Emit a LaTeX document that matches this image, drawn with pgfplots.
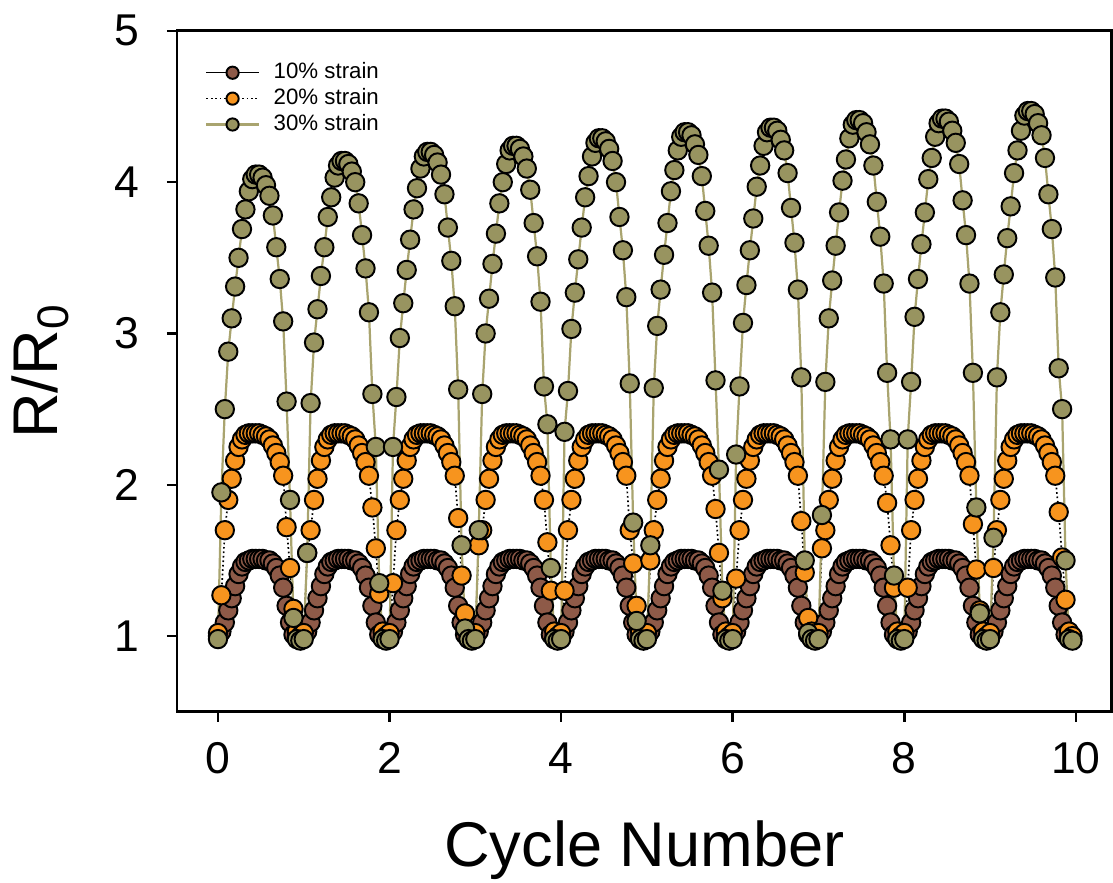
\documentclass[border=0pt]{standalone}
\usepackage{pgfplots}
\pgfplotsset{compat=1.18}
\usepackage{pgfplotstable}
\usepackage{fontspec}
\setmainfont{Liberation Sans}
\definecolor{cbrown}{HTML}{8E5A48}
\definecolor{corange}{HTML}{F7941E}
\definecolor{colive}{HTML}{989460}
\definecolor{colivel}{HTML}{A9A46F}
\pgfplotstableread{
x a b c
0.00 1.00 1.02 0.98
0.04 1.03 1.27 1.95
0.08 1.09 1.70 2.50
0.12 1.17 1.90 2.88
0.16 1.25 2.04 3.10
0.20 1.33 2.16 3.31
0.24 1.41 2.25 3.50
0.28 1.46 2.30 3.69
0.32 1.49 2.33 3.82
0.36 1.50 2.34 3.94
0.40 1.51 2.34 4.02
0.44 1.51 2.34 4.05
0.48 1.51 2.34 4.05
0.52 1.51 2.33 4.03
0.56 1.50 2.32 3.98
0.60 1.50 2.30 3.91
0.64 1.48 2.26 3.78
0.68 1.45 2.21 3.57
0.72 1.40 2.15 3.36
0.76 1.32 2.06 3.08
0.80 1.20 1.72 2.55
0.84 1.09 1.45 1.90
0.88 1.01 1.18 1.12
0.92 0.99 1.03 0.98
0.96 0.98 1.00 0.97
1.00 1.00 1.02 0.98
1.04 1.03 1.55 1.55
1.08 1.09 1.70 2.54
1.12 1.17 1.90 2.94
1.16 1.25 2.04 3.16
1.20 1.33 2.16 3.38
1.24 1.41 2.25 3.57
1.28 1.46 2.30 3.77
1.32 1.49 2.33 3.90
1.36 1.50 2.34 4.03
1.40 1.51 2.34 4.11
1.44 1.51 2.34 4.14
1.48 1.51 2.34 4.14
1.52 1.51 2.33 4.12
1.56 1.50 2.32 4.07
1.60 1.50 2.30 4.00
1.64 1.48 2.26 3.86
1.68 1.45 2.21 3.65
1.72 1.40 2.15 3.43
1.76 1.32 2.06 3.14
1.80 1.20 1.85 2.60
1.84 1.09 1.58 2.25
1.88 1.01 1.28 1.35
1.92 0.99 1.03 0.98
1.96 0.98 1.00 0.97
2.00 1.00 1.02 0.98
2.04 1.03 1.35 2.25
2.08 1.09 1.70 2.58
2.12 1.17 1.90 2.97
2.16 1.25 2.04 3.20
2.20 1.33 2.16 3.42
2.24 1.41 2.25 3.62
2.28 1.46 2.30 3.82
2.32 1.49 2.33 3.96
2.36 1.50 2.34 4.09
2.40 1.51 2.34 4.17
2.44 1.51 2.34 4.20
2.48 1.51 2.34 4.20
2.52 1.51 2.33 4.18
2.56 1.50 2.32 4.13
2.60 1.50 2.30 4.05
2.64 1.48 2.26 3.92
2.68 1.45 2.21 3.70
2.72 1.40 2.15 3.48
2.76 1.32 2.06 3.18
2.80 1.20 1.78 2.63
2.84 1.09 1.40 1.60
2.88 1.01 1.15 1.05
2.92 0.99 1.03 0.98
2.96 0.98 1.00 0.97
3.00 1.00 1.02 0.98
3.04 1.03 1.60 1.70
3.08 1.09 1.70 2.60
3.12 1.17 1.90 3.00
3.16 1.25 2.04 3.23
3.20 1.33 2.16 3.46
3.24 1.41 2.25 3.66
3.28 1.46 2.30 3.86
3.32 1.49 2.33 4.00
3.36 1.50 2.34 4.12
3.40 1.51 2.34 4.21
3.44 1.51 2.34 4.24
3.48 1.51 2.34 4.24
3.52 1.51 2.33 4.22
3.56 1.50 2.32 4.17
3.60 1.50 2.30 4.09
3.64 1.48 2.26 3.95
3.68 1.45 2.21 3.73
3.72 1.40 2.15 3.51
3.76 1.32 2.06 3.21
3.80 1.20 1.90 2.65
3.84 1.09 1.62 2.40
3.88 1.01 1.30 1.45
3.92 0.99 1.03 0.98
3.96 0.98 1.00 0.97
4.00 1.00 1.02 0.98
4.04 1.03 1.30 2.35
4.08 1.09 1.70 2.62
4.12 1.17 1.90 3.03
4.16 1.25 2.04 3.27
4.20 1.33 2.16 3.49
4.24 1.41 2.25 3.70
4.28 1.46 2.30 3.90
4.32 1.49 2.33 4.04
4.36 1.50 2.34 4.17
4.40 1.51 2.34 4.26
4.44 1.51 2.34 4.29
4.48 1.51 2.34 4.29
4.52 1.51 2.33 4.27
4.56 1.50 2.32 4.22
4.60 1.50 2.30 4.14
4.64 1.48 2.26 4.00
4.68 1.45 2.21 3.77
4.72 1.40 2.15 3.55
4.76 1.32 2.06 3.24
4.80 1.20 1.70 2.67
4.84 1.09 1.48 1.75
4.88 1.01 1.20 1.10
4.92 0.99 1.03 0.98
4.96 0.98 1.00 0.97
5.00 1.00 1.02 0.98
5.04 1.03 1.50 1.60
5.08 1.09 1.70 2.64
5.12 1.17 1.90 3.05
5.16 1.25 2.04 3.29
5.20 1.33 2.16 3.52
5.24 1.41 2.25 3.73
5.28 1.46 2.30 3.94
5.32 1.49 2.33 4.08
5.36 1.50 2.34 4.21
5.40 1.51 2.34 4.30
5.44 1.51 2.34 4.33
5.48 1.51 2.34 4.33
5.52 1.51 2.33 4.31
5.56 1.50 2.32 4.25
5.60 1.50 2.30 4.18
5.64 1.48 2.26 4.04
5.68 1.45 2.21 3.81
5.72 1.40 2.15 3.58
5.76 1.32 2.06 3.27
5.80 1.20 1.84 2.69
5.84 1.09 1.55 2.10
5.88 1.01 1.25 1.30
5.92 0.99 1.03 0.98
5.96 0.98 1.00 0.97
6.00 1.00 1.02 0.98
6.04 1.03 1.38 2.20
6.08 1.09 1.70 2.65
6.12 1.17 1.90 3.07
6.16 1.25 2.04 3.32
6.20 1.33 2.16 3.55
6.24 1.41 2.25 3.76
6.28 1.46 2.30 3.97
6.32 1.49 2.33 4.11
6.36 1.50 2.34 4.24
6.40 1.51 2.34 4.33
6.44 1.51 2.34 4.36
6.48 1.51 2.34 4.36
6.52 1.51 2.33 4.34
6.56 1.50 2.32 4.28
6.60 1.50 2.30 4.21
6.64 1.48 2.26 4.06
6.68 1.45 2.21 3.83
6.72 1.40 2.15 3.60
6.76 1.32 2.06 3.29
6.80 1.20 1.76 2.71
6.84 1.09 1.42 1.50
6.88 1.01 1.12 1.02
6.92 0.99 1.03 0.98
6.96 0.98 1.00 0.97
7.00 1.00 1.02 0.98
7.04 1.03 1.58 1.80
7.08 1.09 1.70 2.68
7.12 1.17 1.90 3.10
7.16 1.25 2.04 3.35
7.20 1.33 2.16 3.58
7.24 1.41 2.25 3.80
7.28 1.46 2.30 4.01
7.32 1.49 2.33 4.15
7.36 1.50 2.34 4.29
7.40 1.51 2.34 4.38
7.44 1.51 2.34 4.41
7.48 1.51 2.34 4.41
7.52 1.51 2.33 4.39
7.56 1.50 2.32 4.33
7.60 1.50 2.30 4.25
7.64 1.48 2.26 4.11
7.68 1.45 2.21 3.87
7.72 1.40 2.15 3.64
7.76 1.32 2.06 3.33
7.80 1.20 1.88 2.74
7.84 1.09 1.60 2.30
7.88 1.01 1.32 1.40
7.92 0.99 1.03 0.98
7.96 0.98 1.00 0.97
8.00 1.00 1.02 0.98
8.04 1.03 1.32 2.30
8.08 1.09 1.70 2.68
8.12 1.17 1.90 3.11
8.16 1.25 2.04 3.36
8.20 1.33 2.16 3.59
8.24 1.41 2.25 3.80
8.28 1.46 2.30 4.02
8.32 1.49 2.33 4.16
8.36 1.50 2.34 4.30
8.40 1.51 2.34 4.39
8.44 1.51 2.34 4.42
8.48 1.51 2.34 4.42
8.52 1.51 2.33 4.40
8.56 1.50 2.32 4.34
8.60 1.50 2.30 4.26
8.64 1.48 2.26 4.12
8.68 1.45 2.21 3.88
8.72 1.40 2.15 3.65
8.76 1.32 2.06 3.33
8.80 1.20 1.74 2.74
8.84 1.09 1.44 1.85
8.88 1.01 1.17 1.15
8.92 0.99 1.03 0.98
8.96 0.98 1.00 0.97
9.00 1.00 1.02 0.98
9.04 1.03 1.45 1.65
9.08 1.09 1.70 2.71
9.12 1.17 1.90 3.14
9.16 1.25 2.04 3.39
9.20 1.33 2.16 3.63
9.24 1.41 2.25 3.84
9.28 1.46 2.30 4.06
9.32 1.49 2.33 4.21
9.36 1.50 2.34 4.34
9.40 1.51 2.34 4.44
9.44 1.51 2.34 4.47
9.48 1.51 2.34 4.47
9.52 1.51 2.33 4.45
9.56 1.50 2.32 4.39
9.60 1.50 2.30 4.31
9.64 1.48 2.26 4.16
9.68 1.45 2.21 3.92
9.72 1.40 2.15 3.69
9.76 1.32 2.06 3.37
9.80 1.20 1.82 2.77
9.84 1.09 1.52 2.50
9.88 1.01 1.24 1.50
9.92 0.99 1.03 0.98
9.96 0.98 1.00 0.97
}\data
\begin{document}
\begin{tikzpicture}
\begin{axis}[
  scale only axis,
  width=336pt, height=244.7pt,
  xmin=-0.478, xmax=10.42, ymin=0.5, ymax=5,
  xtick={0,2,...,10}, ytick={1,2,3,4,5},
  xtick pos=bottom, ytick pos=left, tick align=outside,
  major tick length=3.6pt,
  axis line style={line width=1pt},
  tick style={line width=0.9pt, black},
  /pgf/number format/assume math mode=true,
  ticklabel style={font=\fontsize{16}{19}\selectfont},
  xticklabel style={yshift=-4pt},
  yticklabel style={xshift=-6.5pt},
  xlabel={Cycle Number},
  ylabel={R/R\textsubscript{0}},
  xlabel style={at={([yshift=-55.7pt]axis description cs:0.5,0)}, anchor=base, font=\fontsize{22.7}{27}\selectfont},
  ylabel style={at={([xshift=-49.2pt]axis description cs:0,0.5)}, anchor=center, font=\fontsize{22.7}{27}\selectfont},
  legend style={at={(axis description cs:0,1)}, anchor=north west, xshift=10pt, yshift=-10.2pt,
    draw=none, fill=none, inner sep=0pt, font=\fontsize{8}{9.6}\selectfont, row sep=0pt,
    nodes={inner sep=1pt, text height=5.8pt, text depth=1.5pt},
    /tikz/every odd column/.append style={column sep=4pt}},
  legend cell align=left,
  legend image code/.code={\draw[mark repeat=2,mark phase=2,mark size=2.2pt] plot coordinates {(0cm,0cm) (0.33cm,0cm) (0.66cm,0cm)};},
]
\addplot[black, line width=0.5pt, mark=*, mark size=3.3pt, mark options={fill=cbrown, draw=black, line width=0.7pt, solid}] table[x=x,y=a]{\data};
\addlegendentry{10\% strain}
\addplot[black, densely dotted, line width=0.6pt, mark=*, mark size=3.3pt, mark options={fill=corange, draw=black, line width=0.7pt, solid}] table[x=x,y=b]{\data};
\addlegendentry{20\% strain}
\addplot[colivel, line width=0.8pt, mark=*, mark size=3.3pt, mark options={fill=colive, draw=black, line width=0.7pt, solid}] table[x=x,y=c]{\data};
\addlegendentry{30\% strain}
\end{axis}
\pgfresetboundingbox
\path (-63.6pt,-61.4pt) rectangle (336.4pt,255.8pt);
\end{tikzpicture}
\end{document}
